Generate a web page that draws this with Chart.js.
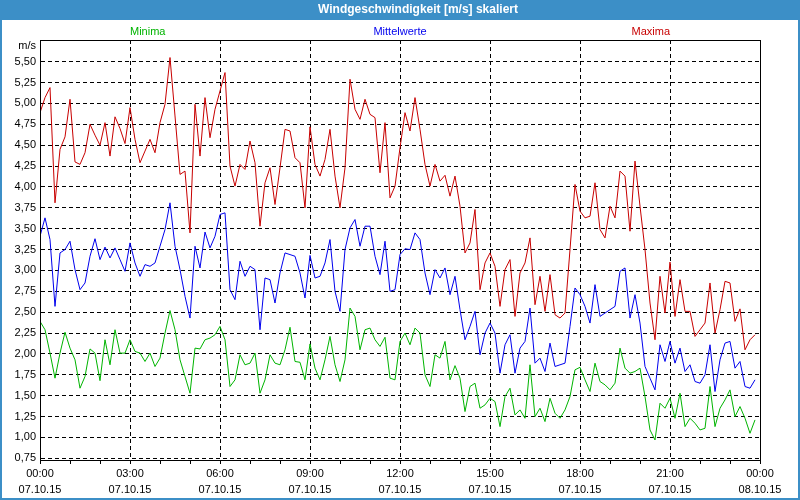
<!DOCTYPE html>
<html>
<head>
<meta charset="utf-8">
<script src="https://cdn.jsdelivr.net/npm/chart.js@4/dist/chart.umd.min.js"></script>
<style>
  html, body { margin: 0; padding: 0; background: #fff; }
</style>
</head>
<body>
<canvas id="myChart" width="800" height="500"></canvas>
<script>
const chartTitle = 'Windgeschwindigkeit [m/s] skaliert';
const unitLabel = 'm/s';

// one value every 10 minutes, 07.10.15 00:00 .. 23:50
const stepMinutes = 10;

const maxima = [
    4.89, 5.07, 5.19, 3.81, 4.45, 4.60, 5.05, 4.30, 4.27, 4.41, 4.75, 4.62, 4.50, 4.77, 4.37, 4.84, 4.70, 4.52,
    4.95, 4.57, 4.29, 4.43, 4.57, 4.41, 4.77, 4.99, 5.55, 4.85, 4.15, 4.19, 3.45, 4.99, 4.37, 5.07, 4.59, 4.93,
    5.15, 5.37, 4.25, 4.01, 4.27, 4.21, 4.55, 4.29, 3.53, 4.05, 4.23, 3.79, 4.23, 4.69, 4.67, 4.35, 4.29, 3.75,
    4.72, 4.27, 4.13, 4.33, 4.69, 4.13, 3.75, 4.23, 5.29, 4.93, 4.81, 5.05, 4.87, 4.83, 4.17, 4.77, 3.87, 4.01,
    4.47, 4.89, 4.67, 5.07, 4.69, 4.27, 4.01, 4.27, 4.07, 4.14, 3.89, 4.13, 3.77, 3.21, 3.33, 3.73, 2.77, 3.09,
    3.21, 3.05, 2.57, 3.01, 3.13, 2.45, 2.97, 3.09, 3.39, 2.59, 2.93, 2.51, 2.95, 2.47, 2.43, 2.49, 3.25, 4.03,
    3.71, 3.63, 3.65, 4.05, 3.49, 3.39, 3.77, 3.63, 4.19, 4.13, 3.47, 4.31, 3.77, 3.25, 2.61, 2.17, 2.93, 2.49,
    3.10, 2.45, 2.89, 2.51, 2.51, 2.21, 2.29, 2.37, 2.85, 2.25, 2.53, 2.87, 2.85, 2.39, 2.54, 2.05, 2.17, 2.23
];

const mittelwerte = [
    3.41, 3.63, 3.37, 2.57, 3.21, 3.25, 3.35, 3.01, 2.77, 2.85, 3.17, 3.38, 3.13, 3.28, 3.15, 3.27, 3.13, 2.99,
    3.33, 3.09, 2.93, 3.07, 3.05, 3.09, 3.29, 3.49, 3.81, 3.29, 3.01, 2.69, 2.43, 3.29, 3.03, 3.46, 3.27, 3.41,
    3.67, 3.69, 2.77, 2.65, 3.11, 2.93, 3.05, 3.01, 2.29, 2.91, 2.89, 2.61, 2.97, 3.21, 3.19, 3.17, 2.97, 2.67,
    3.18, 2.91, 2.93, 3.09, 3.37, 2.75, 2.51, 3.25, 3.51, 3.61, 3.29, 3.53, 3.53, 3.17, 2.95, 3.35, 2.75, 2.77,
    3.19, 3.26, 3.25, 3.45, 3.37, 2.97, 2.71, 3.01, 2.91, 3.03, 2.71, 2.93, 2.53, 2.17, 2.33, 2.51, 1.99, 2.25,
    2.37, 2.25, 1.77, 2.11, 2.23, 1.77, 2.07, 2.15, 2.55, 1.89, 1.95, 1.79, 2.13, 1.85, 1.87, 1.89, 2.33, 2.79,
    2.71, 2.57, 2.37, 2.83, 2.45, 2.49, 2.53, 2.57, 2.99, 3.03, 2.43, 2.71, 2.37, 1.85, 1.71, 1.57, 2.11, 1.91,
    2.15, 1.89, 2.07, 1.79, 1.87, 1.67, 1.65, 1.75, 2.11, 1.55, 1.93, 2.13, 2.15, 1.83, 1.91, 1.61, 1.59, 1.69
];

const minima = [
    2.39, 2.29, 2.01, 1.71, 2.01, 2.26, 2.07, 1.93, 1.59, 1.73, 2.06, 2.01, 1.68, 2.17, 1.87, 2.29, 2.01, 2.01,
    2.17, 2.03, 2.01, 1.91, 2.01, 1.85, 1.95, 2.25, 2.52, 2.29, 1.93, 1.73, 1.53, 2.07, 2.06, 2.17, 2.19, 2.23,
    2.33, 2.17, 1.61, 1.69, 1.99, 1.87, 1.89, 2.01, 1.53, 1.69, 1.99, 1.89, 1.87, 2.05, 2.32, 1.91, 1.90, 1.69,
    2.12, 1.83, 1.69, 1.93, 2.21, 1.87, 1.67, 1.93, 2.55, 2.45, 2.05, 2.29, 2.31, 2.17, 2.09, 2.20, 1.71, 1.69,
    2.15, 2.25, 2.11, 2.31, 2.25, 1.75, 1.61, 1.99, 1.95, 2.15, 1.69, 1.86, 1.71, 1.31, 1.61, 1.65, 1.35, 1.39,
    1.47, 1.43, 1.13, 1.49, 1.59, 1.27, 1.33, 1.23, 1.87, 1.25, 1.35, 1.19, 1.47, 1.29, 1.23, 1.33, 1.49, 1.81,
    1.84, 1.69, 1.55, 1.89, 1.67, 1.63, 1.57, 1.65, 2.07, 1.83, 1.77, 1.79, 1.83, 1.49, 1.09, 0.97, 1.41, 1.35,
    1.47, 1.23, 1.53, 1.13, 1.23, 1.17, 1.09, 1.11, 1.61, 1.13, 1.35, 1.45, 1.57, 1.25, 1.37, 1.23, 1.05, 1.21
];

const tickTimes = ['00:00', '03:00', '06:00', '09:00', '12:00', '15:00', '18:00', '21:00', '00:00'];
const tickDates = ['07.10.15', '07.10.15', '07.10.15', '07.10.15', '07.10.15', '07.10.15', '07.10.15', '07.10.15', '08.10.15'];
const yTicks = [0.75, 1.00, 1.25, 1.50, 1.75, 2.00, 2.25, 2.50, 2.75, 3.00, 3.25, 3.50, 3.75, 4.00, 4.25, 4.50, 4.75, 5.00, 5.25, 5.50];

const seriesNames = ['Minima', 'Mittelwerte', 'Maxima'];
const seriesColors = ['#00b400', '#0000ee', '#c80000'];
const bandColor = '#3c8fc7';
const fontFamily = '"Liberation Sans", Arial, sans-serif';

function toPoints(values) {
    return values.map((v, i) => ({ x: i * stepMinutes, y: v }));
}

// title band, window frame, plot frame and the three coloured series names
const framePlugin = {
    id: 'frame',
    beforeDraw(chart) {
        const c = chart.ctx;
        c.save();
        c.fillStyle = bandColor;
        c.fillRect(0, 0, chart.width, chart.height);
        c.fillStyle = '#ffffff';
        c.fillRect(2, 20, chart.width - 4, chart.height - 22);
        c.fillStyle = '#ffffff';
        c.font = 'bold 12px ' + fontFamily;
        c.textAlign = 'center';
        c.textBaseline = 'middle';
        c.fillText(chartTitle, 418, 10);
        c.restore();
    },
    afterDraw(chart) {
        const c = chart.ctx;
        const a = chart.chartArea;
        const xs = chart.scales.x;
        c.save();
        c.strokeStyle = '#000';
        c.lineWidth = 1;
        c.strokeRect(a.left + 0.5, a.top + 0.5, a.right - a.left, a.bottom - a.top);

        c.font = '11px ' + fontFamily;
        c.textBaseline = 'middle';
        c.fillStyle = '#000';
        c.textAlign = 'right';
        c.fillText(unitLabel, a.left - 4, a.top + 6);

        const y = 32;
        c.fillStyle = seriesColors[0];
        c.textAlign = 'left';
        c.fillText(seriesNames[0], xs.getPixelForValue(180), y);
        c.fillStyle = seriesColors[1];
        c.textAlign = 'center';
        c.fillText(seriesNames[1], xs.getPixelForValue(720), y);
        c.fillStyle = seriesColors[2];
        c.textAlign = 'right';
        c.fillText(seriesNames[2], xs.getPixelForValue(1260), y);
        c.restore();
    }
};

const ctx = document.getElementById('myChart');

const datasets = [minima, mittelwerte, maxima].map((vals, i) => ({
    label: seriesNames[i],
    data: toPoints(vals),
    borderColor: seriesColors[i],
    borderWidth: 1,
    pointRadius: 0,
    tension: 0,
    fill: false
}));

var scales = {
    x: {
        type: 'linear',
        min: 0,
        max: 1440,
        afterFit: (scale) => { scale.height = 38; },
        border: { display: true, color: '#000', dash: [4, 3] },
        grid: {
            color: (c) => (c.tick && c.tick.value % 180 === 0) ? '#000' : 'rgba(0,0,0,0)',
            tickColor: '#000',
            tickLength: 4,
            lineWidth: 1
        },
        ticks: {
            stepSize: 60,
            autoSkip: false,
            maxRotation: 0,
            padding: 2,
            color: '#000',
            font: { family: fontFamily, size: 11, lineHeight: 1.45 },
            callback: function(value) {
                if (value % 180 !== 0) return '';
                const k = value / 180;
                return [tickTimes[k], tickDates[k]];
            }
        }
    },
    y: {
        type: 'linear',
        min: 0.73,
        max: 5.76,
        afterFit: (scale) => { scale.width = 38; },
        afterBuildTicks: (scale) => { scale.ticks = yTicks.map(v => ({ value: v })); },
        border: { display: true, color: '#000', dash: [4, 3] },
        grid: {
            color: '#000',
            lineWidth: 1,
            drawTicks: false
        },
        ticks: {
            padding: 4,
            color: '#000',
            font: { family: fontFamily, size: 11 },
            callback: (value) => value.toFixed(2).replace('.', ',')
        }
    }
};

var myChart = new Chart(ctx, {
    type: 'line',
    data: { datasets: datasets },
    options: {
        responsive: false,
        animation: false,
        layout: { padding: { left: 2, right: 40, top: 40, bottom: 2 } },
        scales: scales,
        plugins: {
            legend: { display: false },
            title: { display: false },
            tooltip: { enabled: false }
        }
    },
    plugins: [framePlugin]
});
</script>
</body>
</html>
